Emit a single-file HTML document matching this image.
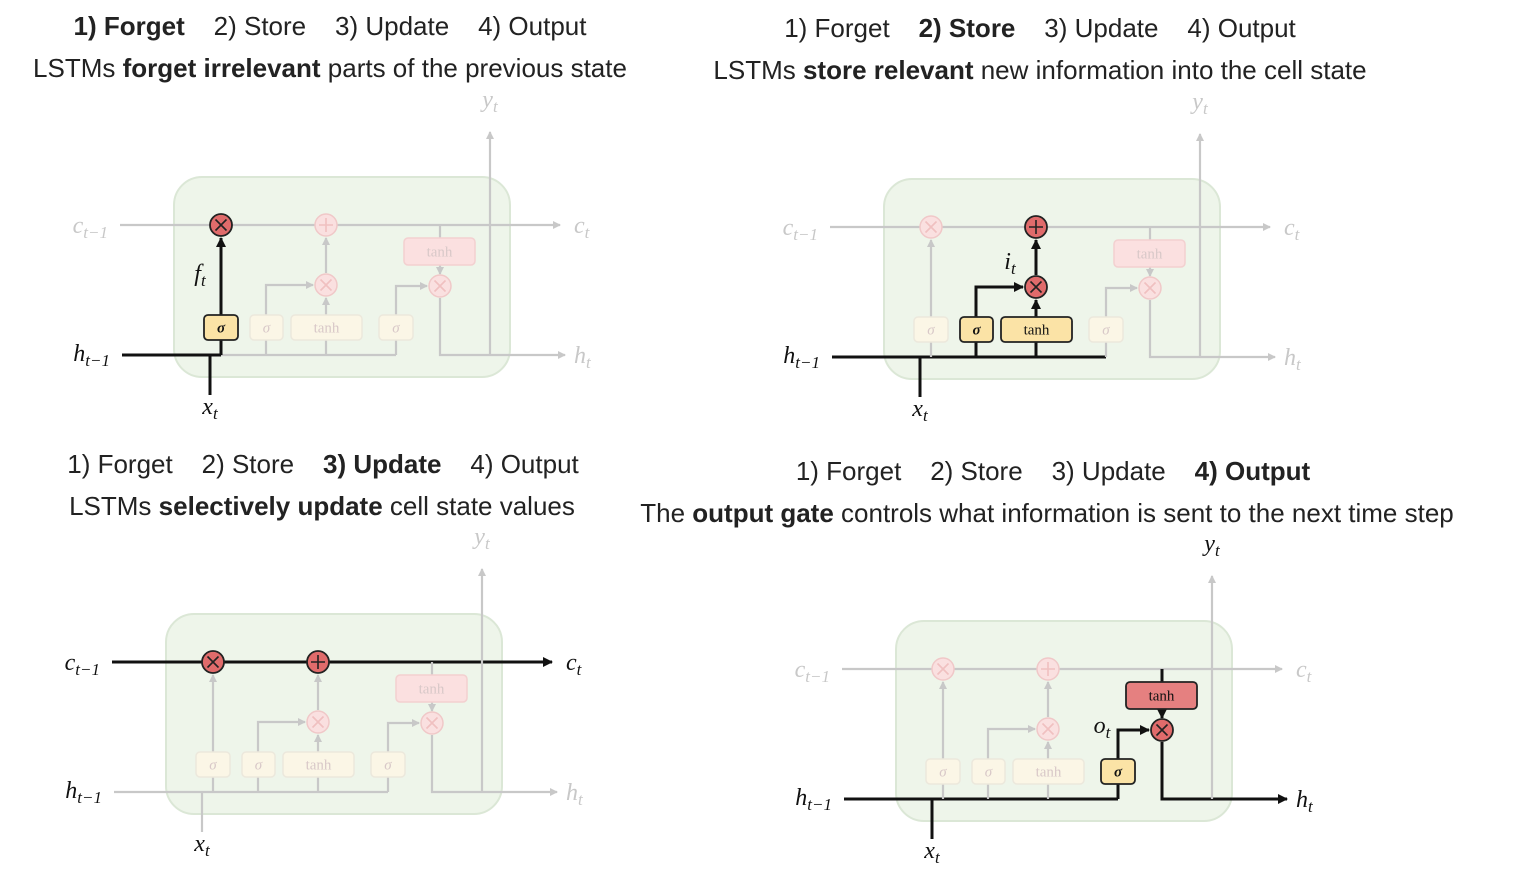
<!DOCTYPE html>
<html><head><meta charset="utf-8"><style>
html,body{margin:0;padding:0;background:#fff;}
svg{display:block;}
.t{font-family:"Liberation Sans",sans-serif;font-size:26px;fill:#222;white-space:pre;}
.l{font-family:"Liberation Serif",serif;font-style:italic;font-size:24px;}
</style></head><body>
<svg id="s" width="1516" height="883" viewBox="0 0 1516 883" xmlns="http://www.w3.org/2000/svg">
<defs>
<marker id="ag" markerWidth="8" markerHeight="8" refX="7" refY="4" orient="auto" markerUnits="userSpaceOnUse"><path d="M0,0 L8,4 L0,8 z" fill="#c8c8c8"/></marker>
<marker id="ab" markerWidth="10" markerHeight="10" refX="9" refY="5" orient="auto" markerUnits="userSpaceOnUse"><path d="M0,0 L10,5 L0,10 z" fill="#111"/></marker>
</defs>
</svg>
<script>
const NS="http://www.w3.org/2000/svg";
const S=document.getElementById('s');
function mk(tag,attrs,parent){const e=document.createElementNS(NS,tag);for(const k in attrs)e.setAttribute(k,attrs[k]);(parent||S).appendChild(e);return e;}
const G='#c8c8c8',B='#111';
function title(cx,y,parts,name,fs){
  const t=mk('text',{x:cx,y:y,'text-anchor':'middle',class:'t'});
  if(fs)t.setAttribute('font-size',fs);
  
  
  parts.forEach(p=>{const ts=mk('tspan',{},t);ts.textContent=p[0];if(p[1])ts.setAttribute('font-weight','bold');});
}
title(330,35,[["1) Forget",1],["    2) Store    3) Update    4) Output"]],'panel1-steps');
title(330,77,[["LSTMs "],["forget irrelevant",1],[" parts of the previous state"]],'panel1-caption',25);
title(1040,37,[["1) Forget    "],["2) Store",1],["    3) Update    4) Output"]],'panel2-steps');
title(1040,79,[["LSTMs "],["store relevant",1],[" new information into the cell state"]],'panel2-caption',25);
title(323,473,[["1) Forget    2) Store    "],["3) Update",1],["    4) Output"]],'panel3-steps');
title(322,515,[["LSTMs "],["selectively update",1],[" cell state values"]],'panel3-caption',25);
title(1053,480,[["1) Forget    2) Store    3) Update    "],["4) Output",1]],'panel4-steps');
title(1047,522,[["The "],["output gate",1],[" controls what information is sent to the next time step"]],'panel4-caption',25);

function panel(ox,oy,h,pn){
  const g=mk('g',{transform:`translate(${ox},${oy})`});
  
  
  const box=mk('rect',{x:0,y:0,width:336,height:200,rx:28,fill:'#eef5ea',stroke:'#dbe7d6','stroke-width':2},g);
  
  
  function line(pts,bold,arrow,name){
    const p=mk('polyline',{points:pts.map(q=>q.join(',')).join(' '),fill:'none',stroke:bold?B:G,'stroke-width':bold?3:2.2},g);
    if(arrow)p.setAttribute('marker-end',bold?'url(#ab)':'url(#ag)');
    
    
  }
  function label(x,y,base,sub,dark,name,anchor){
    const t=mk('text',{x:x,y:y,class:'l',fill:dark?'#111':G,'text-anchor':anchor||'middle'},g);
    
    
    const a=mk('tspan',{},t);a.textContent=base;
    const b=mk('tspan',{'font-size':'17',dy:'5'},t);b.textContent=sub;
  }
  function gate(x,w,y,hh,txt,state,name){
    const fill=state=='y'?'#fbe3a6':state=='r'?'#e58080':(txt=='tanh'&&y<100?'#fbe0e0':'#fbf6e6');
    const st=state?'#222':(txt=='tanh'&&y<100?'#f3d0d0':'#ece8dc');
    const r=mk('rect',{x:x,y:y,width:w,height:hh,rx:4,fill:fill,stroke:st,'stroke-width':state?1.8:1.5},g);
    
    
    const t=mk('text',{x:x+w/2,y:y+hh/2+5,'text-anchor':'middle','font-family':'"Liberation Serif",serif','font-size':15,'font-style':txt=='tanh'?'normal':'italic','font-weight':state&&txt!='tanh'?'bold':'normal',fill:state?'#111':'#d8c8c8'},g);
    t.textContent=txt=='s'?'σ':txt;
  }
  function op(x,y,sym,on,name){
    const c=mk('circle',{cx:x,cy:y,r:11,fill:on?'#e06b6b':'#fae0e0',stroke:on?'#222':'#f0c8c8','stroke-width':on?1.8:1.5},g);
    
    
    const col=on?'#222':'#f0c0c0',d=sym=='x'?5.5:7;
    if(sym=='x'){mk('path',{d:`M${x-d},${y-d}L${x+d},${y+d}M${x-d},${y+d}L${x+d},${y-d}`,stroke:col,'stroke-width':1.6},g);}
    else{mk('path',{d:`M${x-d},${y}L${x+d},${y}M${x},${y-d}L${x},${y+d}`,stroke:col,'stroke-width':1.6},g);}
  }
  line([[-54,48],[386,48]],h.c,true,'cell-state-line');
  line([[-52,178],[222,178]],h.hin&&!h.f,false,'hidden-input-line');
  if(h.f)line([[-52,178],[47,178]],true,false,'hidden-input-bold');
  line([[266,121],[266,178],[391,178]],h.hout,true,'hidden-output-line');
  line([[36,218],[36,178]],h.hin,false,'input-x-line');
  line([[316,178],[316,-45]],false,true,'output-y-line');
  line([[47,178],[47,163]],h.f,false,'forget-gate-input');
  line([[47,138],[47,61]],h.f,true,'forget-gate-output');
  line([[92,178],[92,163]],h.i,false,'input-gate-input');
  line([[92,138],[92,108],[139,108]],h.i,true,'input-gate-output');
  line([[152,178],[152,163]],h.i,false,'candidate-input');
  line([[152,138],[152,121]],h.i,true,'candidate-output');
  line([[152,96],[152,61]],h.i,true,'store-to-add');
  line([[222,178],[222,163]],h.o,false,'output-gate-input');
  line([[222,138],[222,109],[253,109]],h.o,true,'output-gate-output');
  line([[266,48],[266,61]],h.hout,false,'cell-to-tanh');
  line([[266,88],[266,97]],h.hout,true,'tanh-to-mult');
  gate(30,34,138,25,'s',h.f?'y':0,'forget-gate-sigma');
  gate(76,33,138,25,'s',h.i?'y':0,'input-gate-sigma');
  gate(117,71,138,25,'tanh',h.i?'y':0,'candidate-tanh');
  gate(205,34,138,25,'s',h.o?'y':0,'output-gate-sigma');
  gate(230,71,61,27,'tanh',h.hout?'r':0,'output-tanh');
  op(47,48,'x',h.c||h.f,'forget-multiply');
  op(152,48,'+',h.c||h.i,'store-add');
  op(152,108,'x',h.i,'input-multiply');
  op(266,109,'x',h.hout,'output-multiply');
  label(-66,56,'c','t−1',h.c,'label-c-prev','end');
  label(400,56,'c','t',h.c,'label-c-t','start');
  label(-64,184,'h','t−1',true,'label-h-prev','end');
  label(400,186,'h','t',h.hout,'label-h-t','start');
  label(36,237,'x','t',true,'label-x-t');
  label(316,-70,'y','t',h.y,'label-y-t');
  if(h.f)label(26,104,'f','t',true,'label-f-t');
  if(h.i)label(126,90,'i','t',true,'label-i-t');
  if(h.o)label(206,112,'o','t',true,'label-o-t');
}
panel(174,177,{f:1,hin:1},'panel-forget');
panel(884,179,{i:1,hin:1},'panel-store');
panel(166,614,{c:1,hin:0},'panel-update');
panel(896,621,{o:1,hin:1,hout:1,y:1},'panel-output');
</script>
</body></html>
